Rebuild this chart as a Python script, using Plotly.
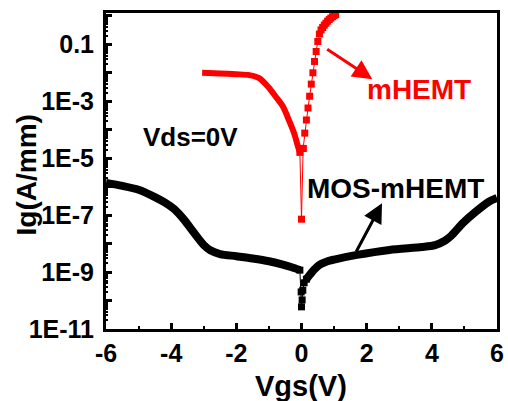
import plotly.graph_objects as go

# ---------------- data ----------------
# MOS-mHEMT, Vgs < 0 branch
mos_left_v = [-6.0, -5.5, -5.0, -4.5, -4.2, -3.9, -3.6, -3.3, -3.0, -2.8, -2.5, -2.0, -1.5, -1.0, -0.6, -0.3, -0.05]
mos_left_i = [1.35e-6, 1.07e-6, 7.8e-7, 4.3e-7, 2.8e-7, 1.6e-7, 6.8e-8, 2.4e-8, 8.9e-9, 5.8e-9, 4.3e-9, 3.6e-9, 3.0e-9, 2.4e-9, 1.86e-9, 1.48e-9, 1.17e-9]
# MOS-mHEMT, points around Vgs = 0
mos_zero_v = [-0.05, -0.01, 0.0, 0.02, 0.04, 0.08, 0.15]
mos_zero_i = [1.17e-9, 2.0e-10, 6.0e-11, 1.05e-10, 2.3e-10, 4.2e-10, 5.6e-10]
# MOS-mHEMT, Vgs > 0 branch
mos_right_v = [0.15, 0.25, 0.4, 0.55, 0.8, 1.0, 1.7, 2.7, 3.7, 4.1, 4.4, 4.6, 4.95, 5.35, 5.75, 6.0]
mos_right_i = [5.6e-10, 7.9e-10, 1.26e-9, 1.78e-9, 2.4e-9, 2.75e-9, 4.0e-9, 6.0e-9, 7.6e-9, 8.9e-9, 1.26e-8, 1.9e-8, 5.2e-8, 1.32e-7, 2.95e-7, 4.0e-7]

# mHEMT, Vgs < 0 branch
hemt_left_v = [-3.05, -2.5, -2.0, -1.6, -1.3, -1.0, -0.8, -0.57, -0.37, -0.21, -0.11, -0.05]
hemt_left_i = [1.0e-2, 9.5e-3, 8.9e-3, 8.3e-3, 6.5e-3, 3.0e-3, 1.5e-3, 6.5e-4, 1.95e-4, 6.6e-5, 2.6e-5, 1.6e-5]
# mHEMT, dip at Vgs = 0
hemt_zero_v = [-0.05, 0.0, 0.05]
hemt_zero_i = [1.6e-5, 7.2e-8, 2.2e-5]
# mHEMT, Vgs > 0 branch
hemt_right_v = [0.05, 0.10, 0.15, 0.20, 0.25, 0.30, 0.35, 0.40, 0.45, 0.50, 0.55,
                0.60, 0.65, 0.70, 0.75, 0.80, 0.85, 0.90, 0.95, 1.00, 1.05]
hemt_right_i = [2.2e-5, 7.6e-5, 2.2e-4, 5.8e-4, 1.5e-3, 4.0e-3, 1.0e-2, 2.5e-2, 5.6e-2, 0.126, 0.23,
                0.32, 0.39, 0.47, 0.55, 0.65, 0.74, 0.83, 0.93, 1.02, 1.10]

x_ticks = [-6, -4, -2, 0, 2, 4, 6]
x_minor = [-5, -3, -1, 1, 3, 5]
y_exps = list(range(-11, 1))
y_labels = {-11: "1E-11", -9: "1E-9", -7: "1E-7", -5: "1E-5", -3: "1E-3", -1: "0.1"}

BLACK = "#000000"
RED = "#ff0000"
FONT = "Liberation Sans"

fig = go.Figure()

# MOS-mHEMT
fig.add_trace(go.Scatter(x=mos_left_v, y=mos_left_i, mode="lines",
                         line=dict(color=BLACK, width=8, shape="spline", smoothing=0.8)))
fig.add_trace(go.Scatter(x=mos_zero_v, y=mos_zero_i, mode="lines+markers",
                         line=dict(color=BLACK, width=1),
                         marker=dict(symbol="square", size=7, color=BLACK)))
fig.add_trace(go.Scatter(x=mos_right_v, y=mos_right_i, mode="lines",
                         line=dict(color=BLACK, width=8, shape="spline", smoothing=0.8)))

# mHEMT
fig.add_trace(go.Scatter(x=hemt_left_v, y=hemt_left_i, mode="lines",
                         line=dict(color=RED, width=6, shape="spline", smoothing=0.8)))
fig.add_trace(go.Scatter(x=hemt_zero_v, y=hemt_zero_i, mode="lines+markers",
                         line=dict(color=RED, width=1),
                         marker=dict(symbol="square", size=7, color=RED)))
fig.add_trace(go.Scatter(x=hemt_right_v, y=hemt_right_i, mode="lines+markers",
                         line=dict(color=RED, width=1),
                         marker=dict(symbol="square", size=7, color=RED)))

minor_vals = [m * 10.0 ** e for e in range(-11, 1) for m in range(2, 10) if m * 10.0 ** e <= 1.26]

fig.update_layout(
    width=508, height=401,
    margin=dict(l=106, r=11, t=13, b=72, autoexpand=False),
    plot_bgcolor="white", paper_bgcolor="white",
    showlegend=False,
    font=dict(family=FONT, color=BLACK, size=25, weight="bold"),
    xaxis=dict(range=[-6, 6], tickmode="array", tickvals=x_ticks,
               ticktext=[str(v) for v in x_ticks], automargin=False,
               ticks="inside", ticklen=6, tickwidth=2.5, tickcolor=BLACK,
               showline=True, linewidth=3, linecolor=BLACK, mirror=True,
               showgrid=False, zeroline=False,
               ticklabelstandoff=0,
               tickfont=dict(family=FONT, size=25, color=BLACK, weight="bold"),
               minor=dict(tickmode="array", tickvals=x_minor, ticks="inside",
                          ticklen=3, tickwidth=2, tickcolor=BLACK, showgrid=False)),
    yaxis=dict(type="log", range=[-11, 0.1], tickmode="array",
               tickvals=[10.0 ** e for e in y_exps],
               ticktext=[y_labels.get(e, "") for e in y_exps], automargin=False,
               ticks="inside", ticklen=6, tickwidth=2.5, tickcolor=BLACK,
               showline=True, linewidth=3, linecolor=BLACK, mirror=True,
               showgrid=False, zeroline=False,
               ticklabelstandoff=4,
               tickfont=dict(family=FONT, size=25, color=BLACK, weight="bold"),
               minor=dict(tickmode="array", tickvals=minor_vals, ticks="inside",
                          ticklen=2, tickwidth=1.5, tickcolor=BLACK, showgrid=False)),
    xaxis2=dict(overlaying="x", side="top", anchor="y", range=[0, 5], tickmode="linear",
                tick0=0, dtick=1, ticks="inside", ticklen=4, tickwidth=2, tickcolor=BLACK,
                showticklabels=False, showline=False, showgrid=False, zeroline=False,
                automargin=False,
                minor=dict(tickmode="linear", tick0=0.5, dtick=1, ticks="inside", ticklen=2,
                           tickwidth=2, tickcolor=BLACK, showgrid=False)),
    yaxis2=dict(overlaying="y", side="right", anchor="x", range=[0, 5], tickmode="linear",
                tick0=0, dtick=1, ticks="inside", ticklen=5, tickwidth=2, tickcolor=BLACK,
                showticklabels=False, showline=False, showgrid=False, zeroline=False,
                automargin=False,
                minor=dict(tickmode="linear", tick0=0.5, dtick=1, ticks="inside", ticklen=3,
                           tickwidth=2, tickcolor=BLACK, showgrid=False)),
)

annotations = [
    # axis titles
    dict(text="Vgs(V)", xref="paper", yref="paper", x=0.4987, y=-0.18,
         xanchor="center", yanchor="middle", showarrow=False,
         font=dict(family=FONT, size=29, color=BLACK, weight="bold")),
    dict(text="Ig(A/mm)", xref="paper", yref="paper", x=-0.2046, y=0.486,
         xanchor="center", yanchor="middle", showarrow=False, textangle=-90,
         font=dict(family=FONT, size=28, color=BLACK, weight="bold")),
    # labels
    dict(text="Vds=0V", xref="x", yref="y", x=-3.42, y=-4.26,
         xanchor="center", yanchor="middle", showarrow=False,
         font=dict(family=FONT, size=26, color=BLACK, weight="bold")),
    dict(text="mHEMT", xref="x", yref="y", x=3.607, y=-2.58,
         xanchor="center", yanchor="middle", showarrow=False,
         font=dict(family=FONT, size=28, color=RED, weight="bold")),
    dict(text="MOS-mHEMT", xref="x", yref="y", x=2.90, y=-6.07,
         xanchor="center", yanchor="middle", showarrow=False,
         font=dict(family=FONT, size=28, color=BLACK, weight="bold")),
    # arrows
    dict(text="", xref="x", yref="y", axref="x", ayref="y",
         x=2.173, y=-2.223, ax=0.743, ay=-1.134, showarrow=True,
         arrowhead=2, arrowsize=1.3, arrowwidth=3, arrowcolor=RED),
    dict(text="", xref="x", yref="y", axref="x", ayref="y",
         x=2.471, y=-6.582, ax=1.657, ay=-8.329, showarrow=True,
         arrowhead=2, arrowsize=1.3, arrowwidth=3, arrowcolor=BLACK),
]
fig.update_layout(annotations=annotations)

fig.write_html("out.html")
